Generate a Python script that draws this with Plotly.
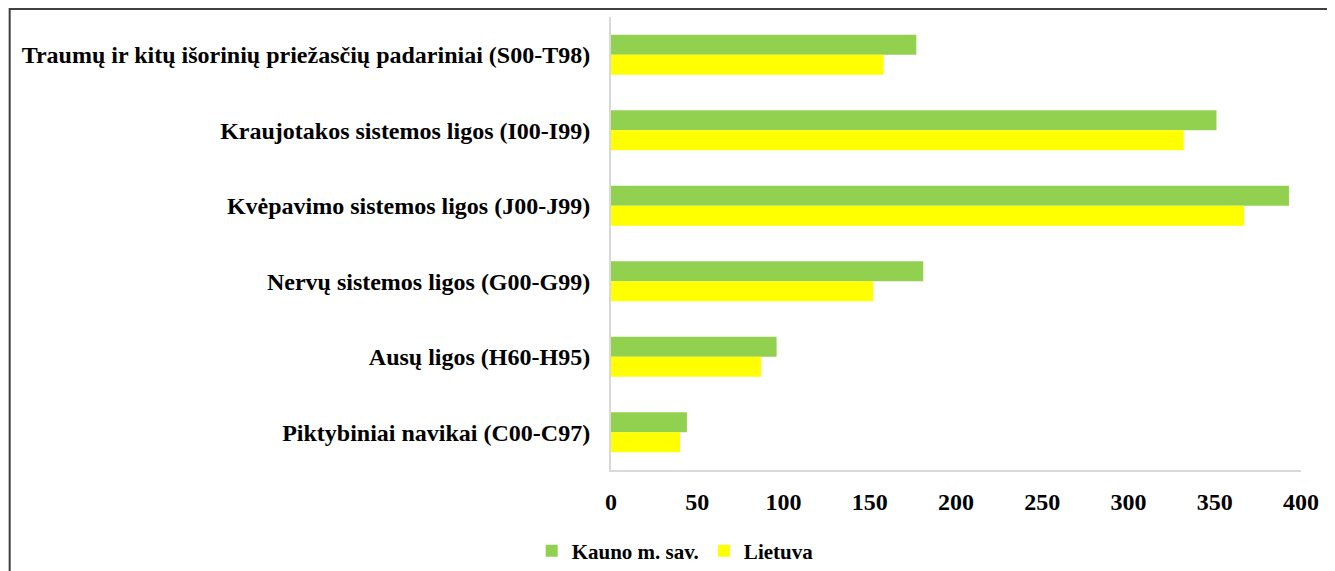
import plotly.graph_objects as go

categories = [
    "Traumų ir kitų išorinių priežasčių padariniai (S00-T98)",
    "Kraujotakos sistemos ligos (I00-I99)",
    "Kvėpavimo sistemos ligos (J00-J99)",
    "Nervų sistemos ligos (G00-G99)",
    "Ausų ligos (H60-H95)",
    "Piktybiniai navikai (C00-C97)",
]
kaunas = [177, 351, 393, 181, 96, 44]
lietuva = [158, 332, 367, 152, 87, 40]
x_ticks = [0, 50, 100, 150, 200, 250, 300, 350, 400]

FONT = "Liberation Serif"

fig = go.Figure()
fig.add_trace(go.Bar(y=categories, x=kaunas, name="Kauno m. sav.", orientation="h",
                     marker=dict(color="#92D050", line=dict(width=0))))
fig.add_trace(go.Bar(y=categories, x=lietuva, name="Lietuva", orientation="h",
                     marker=dict(color="#FFFF00", line=dict(width=0))))

fig.update_layout(
    width=1327, height=574,
    margin=dict(l=603, r=33.5, t=9, b=112),
    paper_bgcolor="white", plot_bgcolor="white",
    barmode="group", bargap=0.47, bargroupgap=0,
    font=dict(family=FONT, size=24, color="black"),
    showlegend=True,
    legend=dict(orientation="h", x=0.093, xanchor="center", y=-0.179, yanchor="middle",
                font=dict(family=FONT, size=21, color="black", weight="bold"),
                itemwidth=30, traceorder="normal"),
    xaxis=dict(range=[0, 400], tickvals=x_ticks, showgrid=False, zeroline=False,
               showline=True, linecolor="#d9d9d9", linewidth=2,
               ticks="outside", ticklen=9, tickcolor="rgba(0,0,0,0)",
               tickfont=dict(family=FONT, size=24, color="black", weight="bold")),
    yaxis=dict(autorange="reversed", showgrid=False, zeroline=False,
               showline=True, linecolor="#d9d9d9", linewidth=2,
               ticks="outside", ticklen=14, tickcolor="rgba(0,0,0,0)",
               tickfont=dict(family=FONT, size=24, color="black", weight="bold")),
)

# outer frame of the picture
fig.add_shape(type="rect", xref="paper", yref="paper",
              x0=-0.8715, x1=1.0442, y0=-0.30, y1=1.0177,
              line=dict(color="#404040", width=2), fillcolor="rgba(0,0,0,0)", layer="above")

fig.write_html("out.html")
